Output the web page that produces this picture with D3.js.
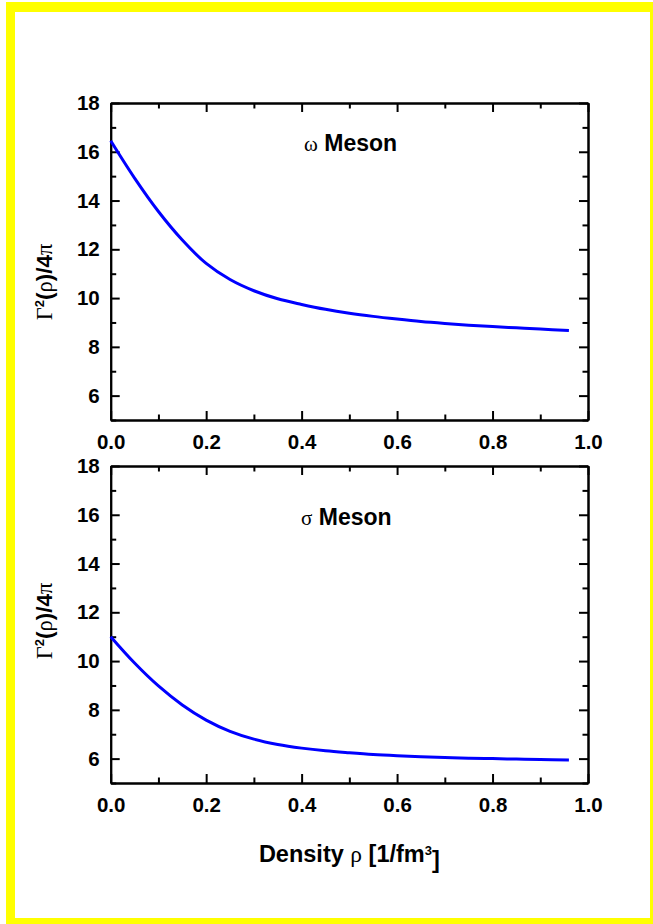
<!DOCTYPE html>
<html>
<head>
<meta charset="utf-8">
<script src="https://cdn.jsdelivr.net/npm/d3@7"></script>
<style>
  body { margin: 0; background: #fff; }
  svg text { font-family: "Liberation Sans", Arial, sans-serif; font-weight: bold; fill: #000; }
  .greek { font-family: "Liberation Serif", "Times New Roman", serif; font-weight: normal; }
</style>
</head>
<body>
<div class="js-d3"></div>
<script>
// density values (1/fm^3)
const rho = [0, 0.05, 0.1, 0.15, 0.2, 0.25, 0.3, 0.35, 0.4, 0.45, 0.5,
  0.55, 0.6, 0.65, 0.7, 0.75, 0.8, 0.85, 0.9, 0.96];

// Gamma^2(rho)/4pi for the two mesons
const omegaG = [16.45, 14.92, 13.55, 12.38, 11.42, 10.76, 10.3, 9.97, 9.74, 9.54, 9.38,
  9.25, 9.14, 9.04, 8.96, 8.89, 8.83, 8.78, 8.73, 8.67];
const sigmaG = [11.0, 9.92, 8.98, 8.2, 7.58, 7.12, 6.8, 6.58, 6.43, 6.32, 6.24,
  6.17, 6.12, 6.08, 6.05, 6.02, 6.0, 5.98, 5.96, 5.94];

const xTicks = [0, 0.2, 0.4, 0.6, 0.8, 1.0];
const xMinor = [0.1, 0.3, 0.5, 0.7, 0.9];
const yTicks = [6, 8, 10, 12, 14, 16, 18];
const yMinor = [5, 7, 9, 11, 13, 15, 17];

const W = 653;
const H = 924;

const svg = d3.select(".js-d3")
  .append("svg")
  .attr("width", W)
  .attr("height", H);

// yellow frame
svg.append("rect").attr("x", 6).attr("y", 2).attr("width", 700).attr("height", 1000).attr("fill", "#ffff00");
svg.append("rect").attr("x", 15).attr("y", 12).attr("width", 635).attr("height", 906).attr("fill", "#fff");

const left = 110.7;
const right = 588;
const x = d3.scaleLinear().domain([0, 1]).range([left, right]);

const panels = [
  { top: 103, values: omegaG, letter: "ω", labelX: 304, labelY: 150.7, titleY: 282 },
  { top: 466, values: sigmaG, letter: "σ", labelX: 301, labelY: 525, titleY: 621 }
];
const ph = 317;

const styleAxis = (g) => {
  g.select(".domain").attr("stroke", "#000").attr("stroke-width", 2);
  g.selectAll(".tick line").attr("stroke", "#000").attr("stroke-width", 2);
  g.selectAll(".tick text").style("font-size", "20.5px");
};

panels.forEach((p) => {
  const y = d3.scaleLinear().domain([5, 18]).range([p.top + ph, p.top]);
  const g = svg.append("g");

  // bottom
  g.append("g").attr("transform", `translate(0,${p.top + ph})`)
    .call(d3.axisBottom(x).tickValues(xMinor).tickSizeInner(-5.5).tickSizeOuter(0).tickFormat(""))
    .call(styleAxis);
  g.append("g").attr("transform", `translate(0,${p.top + ph})`)
    .call(d3.axisBottom(x).tickValues(xTicks).tickSizeInner(-9).tickSizeOuter(0).tickPadding(14).tickFormat(d3.format(".1f")))
    .call(styleAxis);
  // top
  g.append("g").attr("transform", `translate(0,${p.top})`)
    .call(d3.axisTop(x).tickValues(xMinor).tickSizeInner(-5.5).tickSizeOuter(0).tickFormat(""))
    .call(styleAxis);
  g.append("g").attr("transform", `translate(0,${p.top})`)
    .call(d3.axisTop(x).tickValues(xTicks).tickSizeInner(-9).tickSizeOuter(0).tickFormat(""))
    .call(styleAxis);
  // left
  g.append("g").attr("transform", `translate(${left},0)`)
    .call(d3.axisLeft(y).tickValues(yMinor).tickSizeInner(-5.5).tickSizeOuter(0).tickFormat(""))
    .call(styleAxis);
  g.append("g").attr("transform", `translate(${left},0)`)
    .call(d3.axisLeft(y).tickValues(yTicks).tickSizeInner(-9).tickSizeOuter(0).tickPadding(11).tickFormat(d3.format("d")))
    .call(styleAxis);
  // right
  g.append("g").attr("transform", `translate(${right},0)`)
    .call(d3.axisRight(y).tickValues(yMinor).tickSizeInner(-5.5).tickSizeOuter(0).tickFormat(""))
    .call(styleAxis);
  g.append("g").attr("transform", `translate(${right},0)`)
    .call(d3.axisRight(y).tickValues(yTicks).tickSizeInner(-9).tickSizeOuter(0).tickFormat(""))
    .call(styleAxis);

  // curve
  const line = d3.line()
    .x((d, i) => x(rho[i]))
    .y((d) => y(d))
    .curve(d3.curveCatmullRom.alpha(0.5));

  g.append("path")
    .datum(p.values)
    .attr("fill", "none")
    .attr("stroke", "#0000ff")
    .attr("stroke-width", 3)
    .attr("d", line);

  // meson label
  const lab = g.append("text").attr("x", p.labelX).attr("y", p.labelY);
  lab.append("tspan").attr("class", "greek").style("font-size", "21px").text(p.letter);
  lab.append("tspan").style("font-size", "23px").text(" Meson");

  // y title
  const yt = g.append("text")
    .attr("transform", `translate(52,${p.titleY}) rotate(-90)`)
    .attr("text-anchor", "middle")
    .style("font-size", "22.5px");
  yt.append("tspan").attr("class", "greek").text("Γ");
  yt.append("tspan").attr("dy", "-0.6em").style("font-size", "13px").text("2");
  yt.append("tspan").attr("dy", "0.35em").text("(");
  yt.append("tspan").attr("class", "greek").text("ρ");
  yt.append("tspan").text(")/4");
  yt.append("tspan").attr("class", "greek").text("π");
});

// x title
const xt = svg.append("text")
  .attr("x", (left + right) / 2)
  .attr("y", 862)
  .attr("text-anchor", "middle")
  .style("font-size", "23.5px");
xt.append("tspan").text("Density ");
xt.append("tspan").attr("class", "greek").text("ρ");
xt.append("tspan").text(" [1/fm");
xt.append("tspan").attr("dy", "-0.55em").style("font-size", "13px").text("3");
xt.append("tspan").attr("dy", "0.55em").text("]");
</script>
</body>
</html>
